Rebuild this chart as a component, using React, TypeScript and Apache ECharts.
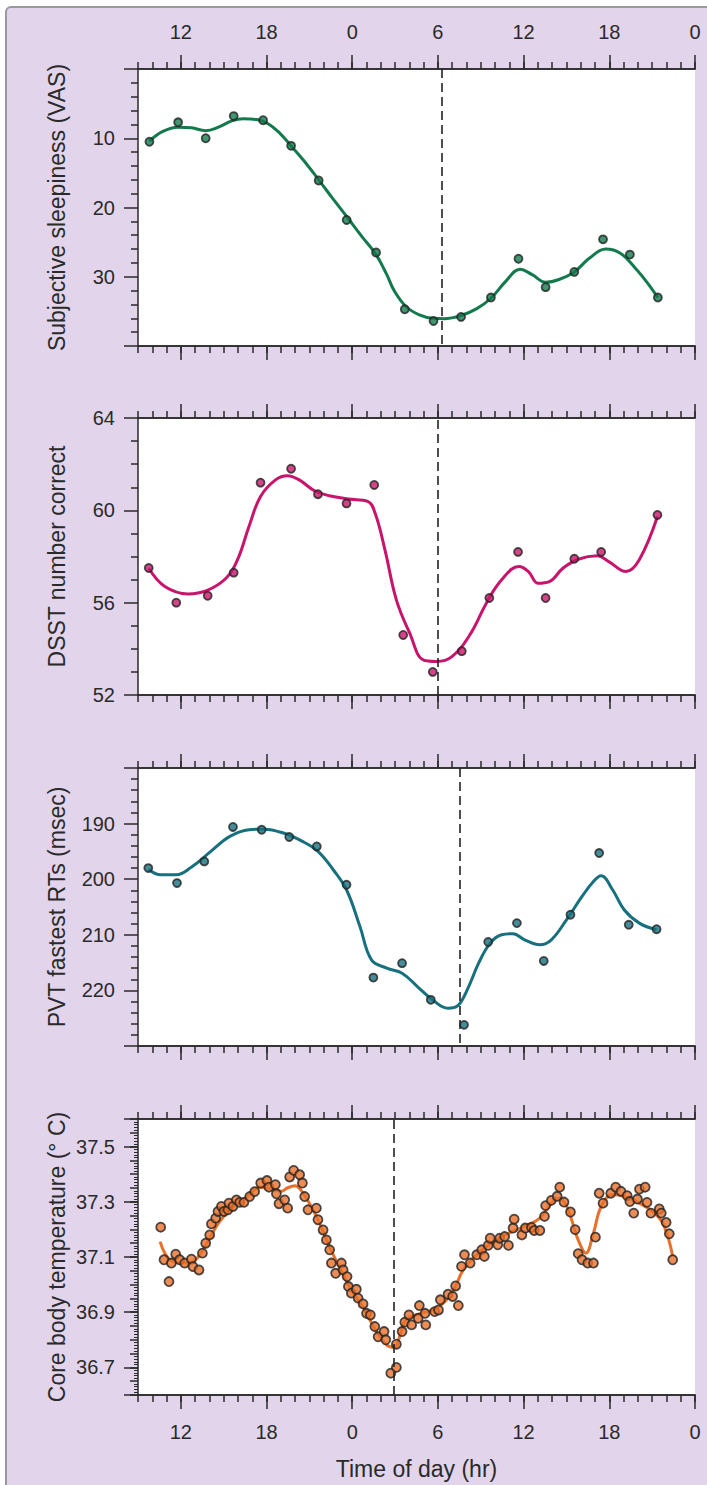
import React, { useEffect, useRef } from "react";
import * as echarts from "echarts";

// ---------- data ----------
const majorHours = [12, 18, 24, 30, 36, 42, 48];

// Panel 1: subjective sleepiness (VAS)
const vasHours = [9.8, 11.81, 13.74, 15.7, 17.76, 19.72, 21.65, 23.61, 25.67, 27.68, 29.69, 31.62, 33.71, 35.64, 37.54, 39.55, 41.56, 43.44, 45.4];
const vasValues = [10.5, 7.7, 10.0, 6.8, 7.4, 11.1, 16.1, 21.8, 26.5, 34.7, 36.4, 35.8, 33.0, 27.4, 31.5, 29.3, 24.6, 26.8, 33.0];
const vasFitHours = [9.8, 10.74, 11.81, 12.75, 13.74, 14.63, 15.57, 16.37, 17.31, 18.11, 18.92, 19.72, 20.66, 21.65, 22.67, 23.61, 24.68, 25.67, 26.42, 26.96, 27.76, 28.7, 29.64, 30.44, 31.62, 32.72, 33.71, 34.73, 35.75, 36.6, 37.54, 38.48, 39.55, 40.62, 41.75, 42.77, 43.84, 44.64, 45.4];
const vasFitValues = [10.4, 9.0, 8.4, 8.5, 8.9, 8.4, 7.5, 7.2, 7.3, 7.9, 9.25, 11.1, 13.35, 16.0, 18.8, 21.3, 24.2, 26.8, 29.7, 32.1, 34.3, 35.5, 36.0, 36.05, 35.6, 34.6, 33.1, 30.7, 28.9, 29.7, 30.8, 30.4, 29.3, 27.3, 26.0, 26.6, 28.8, 30.8, 33.0];

// Panel 2: DSST number correct
const dsstHours = [9.75, 11.68, 13.88, 15.7, 17.58, 19.72, 21.6, 23.6, 25.54, 27.57, 29.64, 31.67, 33.6, 35.61, 37.54, 39.55, 41.43, 45.37];
const dsstValues = [57.5, 56.0, 56.3, 57.3, 61.2, 61.8, 60.7, 60.3, 61.1, 54.6, 53.0, 53.9, 56.2, 58.2, 56.2, 57.9, 58.2, 59.8];
const dsstFitHours = [9.75, 10.88, 12.5, 13.8, 15.16, 15.97, 16.77, 17.58, 18.65, 19.45, 20.26, 21.33, 22.4, 23.74, 25.08, 25.6, 26.29, 27.09, 28.03, 28.97, 29.9, 30.98, 32.3, 33.39, 34.46, 35.67, 36.34, 37.0, 37.8, 38.75, 39.82, 41.16, 41.96, 43.17, 44.1, 45.37];
const dsstFitValues = [57.49, 56.7, 56.38, 56.52, 57.06, 57.86, 59.3, 60.6, 61.33, 61.5, 61.33, 60.86, 60.63, 60.49, 60.39, 59.88, 58.29, 56.12, 54.67, 53.52, 53.45, 53.66, 54.67, 55.98, 56.99, 57.57, 57.35, 56.84, 56.91, 57.49, 57.88, 58.03, 57.78, 57.35, 57.86, 59.73];

// Panel 3: PVT fastest RTs (msec)
const pvtHours = [9.72, 11.73, 13.64, 15.65, 17.66, 19.59, 21.52, 23.6, 25.48, 27.49, 29.5, 31.83, 33.52, 35.53, 37.41, 39.28, 41.29, 43.36, 45.31];
const pvtValues = [198.0, 200.7, 196.8, 190.6, 191.1, 192.4, 194.1, 201.0, 217.7, 215.1, 221.7, 226.2, 211.3, 207.9, 214.7, 206.4, 195.3, 208.2, 209.0];
const pvtFitHours = [9.72, 10.6, 11.68, 12.75, 14.1, 15.43, 16.77, 17.84, 19.18, 20.52, 21.6, 22.67, 23.6, 24.54, 25.35, 26.42, 27.49, 28.56, 29.63, 30.7, 31.37, 32.05, 32.85, 33.66, 34.46, 35.26, 36.07, 37.14, 37.94, 39.0, 40.09, 40.89, 41.43, 42.23, 43.04, 44.1, 45.31];
const pvtFitValues = [198.2, 199.2, 199.2, 197.8, 195.0, 192.3, 191.1, 191.0, 191.7, 193.2, 195.0, 198.3, 201.9, 208.5, 214.5, 216.0, 216.9, 219.3, 221.7, 223.2, 222.8, 219.9, 215.1, 211.5, 210.0, 209.8, 210.9, 211.8, 210.9, 207.3, 203.1, 200.4, 199.4, 201.9, 205.5, 207.9, 209.1];

// Panel 4: core body temperature (°C)
const tempHours = [10.59, 10.82, 11.17, 11.34, 11.64, 11.92, 12.27, 12.74, 12.85, 13.27, 13.51, 13.74, 14.02, 14.14, 14.44, 14.6, 14.84, 15.02, 15.3, 15.37, 15.65, 15.89, 16.12, 16.42, 16.82, 17.17, 17.59, 18.03, 18.17, 18.62, 18.69, 18.87, 19.27, 19.48, 19.62, 19.9, 20.32, 20.51, 20.67, 20.9, 21.49, 21.6, 21.96, 22.19, 22.42, 22.54, 22.84, 23.24, 23.36, 23.64, 23.73, 23.94, 24.29, 24.41, 24.76, 25.0, 25.27, 25.58, 25.81, 26.23, 26.35, 26.7, 27.09, 27.09, 27.49, 27.68, 27.97, 28.16, 28.62, 28.7, 29.1, 29.15, 29.77, 30.04, 30.17, 30.71, 31.03, 31.24, 31.43, 31.65, 31.86, 32.26, 32.72, 33.07, 33.25, 33.52, 33.66, 34.19, 34.33, 34.67, 34.94, 35.26, 35.34, 35.88, 36.12, 36.55, 36.74, 37.14, 37.46, 37.54, 37.94, 38.35, 38.53, 38.83, 39.28, 39.61, 39.82, 40.09, 40.49, 40.89, 41.03, 41.29, 41.56, 42.1, 42.45, 42.82, 43.25, 43.44, 43.71, 43.97, 44.11, 44.51, 44.64, 44.91, 45.5, 45.64, 45.98, 46.2, 46.44];
const tempValues = [37.208, 37.09, 37.011, 37.078, 37.11, 37.09, 37.078, 37.092, 37.065, 37.053, 37.114, 37.15, 37.18, 37.22, 37.241, 37.265, 37.283, 37.265, 37.271, 37.295, 37.283, 37.307, 37.298, 37.298, 37.319, 37.337, 37.368, 37.377, 37.353, 37.362, 37.329, 37.293, 37.307, 37.277, 37.39, 37.414, 37.398, 37.368, 37.319, 37.271, 37.277, 37.235, 37.198, 37.162, 37.126, 37.078, 37.041, 37.078, 37.053, 37.029, 36.993, 36.969, 36.983, 36.951, 36.93, 36.896, 36.89, 36.848, 36.811, 36.83, 36.8, 36.679, 36.7, 36.784, 36.83, 36.864, 36.89, 36.854, 36.878, 36.924, 36.896, 36.854, 36.902, 36.908, 36.945, 36.965, 36.957, 36.995, 36.924, 37.066, 37.108, 37.078, 37.108, 37.126, 37.102, 37.142, 37.168, 37.144, 37.168, 37.174, 37.142, 37.205, 37.237, 37.18, 37.205, 37.207, 37.196, 37.196, 37.247, 37.286, 37.305, 37.32, 37.353, 37.299, 37.263, 37.199, 37.112, 37.09, 37.078, 37.078, 37.172, 37.331, 37.295, 37.331, 37.353, 37.338, 37.322, 37.301, 37.259, 37.31, 37.346, 37.353, 37.298, 37.259, 37.274, 37.259, 37.225, 37.184, 37.09];
const tempFitHours = [10.55, 10.88, 11.41, 12.22, 13.02, 13.82, 14.63, 15.43, 16.5, 17.58, 18.38, 19.05, 19.45, 19.99, 20.39, 20.93, 21.6, 22.4, 23.2, 24.0, 24.81, 25.62, 26.42, 26.96, 27.36, 27.76, 28.83, 29.9, 30.98, 31.78, 32.85, 33.92, 34.99, 36.07, 37.14, 37.94, 38.48, 39.02, 39.82, 40.36, 40.89, 41.43, 42.23, 43.04, 44.11, 45.18, 45.85, 46.44];
const tempFitValues = [37.156, 37.114, 37.084, 37.078, 37.09, 37.15, 37.223, 37.271, 37.313, 37.353, 37.346, 37.338, 37.35, 37.358, 37.344, 37.301, 37.235, 37.138, 37.054, 36.975, 36.914, 36.836, 36.781, 36.773, 36.818, 36.872, 36.896, 36.914, 36.969, 37.054, 37.114, 37.156, 37.187, 37.211, 37.241, 37.295, 37.313, 37.283, 37.162, 37.114, 37.187, 37.283, 37.326, 37.32, 37.295, 37.259, 37.211, 37.102];

// dashed markers (hour of each panel's minimum)
const dashHours = [30.3, 30.0, 31.5, 26.9];

const tempLabelValues = [36.7, 36.9, 37.1, 37.3, 37.5];
const tempLongTicks = [36.6, 36.7, 36.9, 37.1, 37.3, 37.5, 37.6];

// ---------- styles ----------
const AX = "#2a2a2a";
const FONT = '"Liberation Sans", Arial, Helvetica, sans-serif';
const GRID_TOPS = [69, 418, 768, 1119];
const GRID_HEIGHTS = [277, 277, 278, 276];
const COLORS = ["#127a4c", "#c8156b", "#17707e", "#e8702a"];

const zip = (a: number[], b: number[]) => a.map((x, i) => [x, b[i]]);
const hourLabel = (v: number) => String(((Math.round(v) % 24) + 24) % 24);

function xAxesFor(i: number) {
  const line = { show: true, onZero: false, lineStyle: { color: AX, width: 1.5 } };
  const base = { gridIndex: i, type: "value", min: 9, max: 48, splitLine: { show: false }, axisLine: line };
  const minorTick = { show: true, inside: false, length: 7, lineStyle: { color: AX, width: 1.5 } };
  const majorTick = { show: true, inside: false, length: 14, customValues: majorHours, lineStyle: { color: AX, width: 1.5 } };
  const lbl = (show: boolean) =>
    show
      ? { show: true, customValues: majorHours, formatter: hourLabel, margin: 27, fontSize: 20, color: AX, fontFamily: FONT }
      : { show: false };
  const axes: any[] = [
    { ...base, position: "top", interval: 1, axisTick: minorTick, axisLabel: { show: false } },
    { ...base, position: "top", axisTick: majorTick, axisLabel: lbl(i === 0) },
    { ...base, position: "bottom", interval: 1, axisTick: minorTick, axisLabel: { show: false } },
    { ...base, position: "bottom", axisTick: majorTick, axisLabel: lbl(i === 3) },
  ];
  if (i === 3) {
    axes[3].name = "Time of day (hr)";
    axes[3].nameLocation = "middle";
    axes[3].nameGap = 62;
    axes[3].nameTextStyle = { fontSize: 23, color: AX, fontFamily: FONT };
  }
  return axes;
}

const yLine = { show: true, onZero: false, lineStyle: { color: AX, width: 1.5 } };
const yTick = (len: number) => ({ show: true, inside: false, length: len, lineStyle: { color: AX, width: 1.5 } });
const yLabel = (fmt: (v: number) => string) => ({ show: true, formatter: fmt, margin: 23, fontSize: 20, color: AX, fontFamily: FONT });
const yName = (name: string) => ({
  name,
  nameLocation: "middle",
  nameGap: 70,
  nameRotate: 90,
  nameTextStyle: { fontSize: 23, color: AX, fontFamily: FONT },
});

const yAxes: any[] = [
  {
    gridIndex: 0, position: "left", type: "value", inverse: true, min: 0, max: 40, interval: 10,
    axisLine: yLine, axisTick: yTick(14), splitLine: { show: false },
    minorTick: { show: true, splitNumber: 5, length: 7, lineStyle: { color: AX, width: 1.5 } },
    axisLabel: yLabel((v) => (v === 0 || v === 40 ? "" : String(v))),
    ...yName("Subjective sleepiness (VAS)"),
  },
  {
    gridIndex: 1, position: "left", type: "value", min: 52, max: 64, interval: 4,
    axisLine: yLine, axisTick: yTick(14), splitLine: { show: false },
    minorTick: { show: true, splitNumber: 4, length: 7, lineStyle: { color: AX, width: 1.5 } },
    axisLabel: yLabel((v) => String(v)),
    ...yName("DSST number correct"),
  },
  {
    gridIndex: 2, position: "left", type: "value", inverse: true, min: 180, max: 230, interval: 10,
    axisLine: yLine, axisTick: yTick(14), splitLine: { show: false },
    minorTick: { show: true, splitNumber: 5, length: 7, lineStyle: { color: AX, width: 1.5 } },
    axisLabel: yLabel((v) => (v === 180 || v === 230 ? "" : String(v))),
    ...yName("PVT fastest RTs (msec)"),
  },
  {
    gridIndex: 3, position: "left", type: "value", min: 36.6, max: 37.6, interval: 0.05,
    axisLine: yLine, axisTick: yTick(8), splitLine: { show: false },
    minorTick: { show: true, splitNumber: 5, length: 4, lineStyle: { color: AX, width: 1 } },
    axisLabel: { show: false },
    ...yName("Core body temperature (° C)"),
  },
  {
    gridIndex: 3, position: "left", type: "value", min: 36.6, max: 37.6,
    axisLine: { show: false, onZero: false }, splitLine: { show: false },
    axisTick: { show: true, inside: false, length: 14, customValues: tempLongTicks, lineStyle: { color: AX, width: 1.5 } },
    axisLabel: { show: true, customValues: tempLabelValues, formatter: (v: number) => v.toFixed(1), margin: 23, fontSize: 20, color: AX, fontFamily: FONT },
  },
];

const panels = [
  { h: vasHours, v: vasValues, fh: vasFitHours, fv: vasFitValues, size: 8 },
  { h: dsstHours, v: dsstValues, fh: dsstFitHours, fv: dsstFitValues, size: 8 },
  { h: pvtHours, v: pvtValues, fh: pvtFitHours, fv: pvtFitValues, size: 8 },
  { h: tempHours, v: tempValues, fh: tempFitHours, fv: tempFitValues, size: 9 },
];

const series: any[] = [];
panels.forEach((p, i) => {
  series.push({
    type: "line",
    xAxisIndex: 4 * i + 2,
    yAxisIndex: i,
    data: zip(p.fh, p.fv),
    smooth: 0.4,
    symbol: "none",
    showSymbol: false,
    lineStyle: { color: COLORS[i], width: 3 },
    emphasis: { disabled: true },
    z: 2,
    markLine: {
      silent: true,
      symbol: ["none", "none"],
      label: { show: false },
      lineStyle: { color: "#222", type: [9, 5], width: 1.6 },
      emphasis: { disabled: true },
      data: [{ xAxis: dashHours[i] }],
    },
  });
  series.push({
    type: "scatter",
    xAxisIndex: 4 * i + 2,
    yAxisIndex: i,
    data: zip(p.h, p.v),
    symbol: "circle",
    symbolSize: p.size,
    itemStyle: { color: COLORS[i], borderColor: "#222", borderWidth: 1.8 },
    emphasis: { disabled: true },
    z: 3,
  });
});

const option: any = {
  animation: false,
  backgroundColor: "transparent",
  textStyle: { fontFamily: FONT },
  grid: GRID_TOPS.map((t, i) => ({
    left: 138, width: 557, top: t, height: GRID_HEIGHTS[i],
    show: true, backgroundColor: "#ffffff", borderWidth: 0, containLabel: false,
    outerBoundsMode: "none",
  })),
  xAxis: [0, 1, 2, 3].flatMap((i) => xAxesFor(i)),
  yAxis: yAxes,
  series,
};

export default function App() {
  const ref = useRef<HTMLDivElement>(null);
  useEffect(() => {
    if (!ref.current) return;
    const chart = echarts.init(ref.current, null, { renderer: "svg", width: 707, height: 1485 });
    chart.setOption(option);
    return () => chart.dispose();
  }, []);
  return (
    <div style={{ position: "absolute", left: 0, top: 0, width: 707, height: 1485, background: "#ffffff", overflow: "hidden" }}>
      <div
        style={{
          position: "absolute", left: 5, top: 6, width: 730, height: 1510,
          background: "#e2d5eb", border: "2px solid #9a9a9a", borderRadius: 6,
        }}
      />
      <div ref={ref} style={{ position: "absolute", left: 0, top: 0, width: 707, height: 1485 }} />
    </div>
  );
}
